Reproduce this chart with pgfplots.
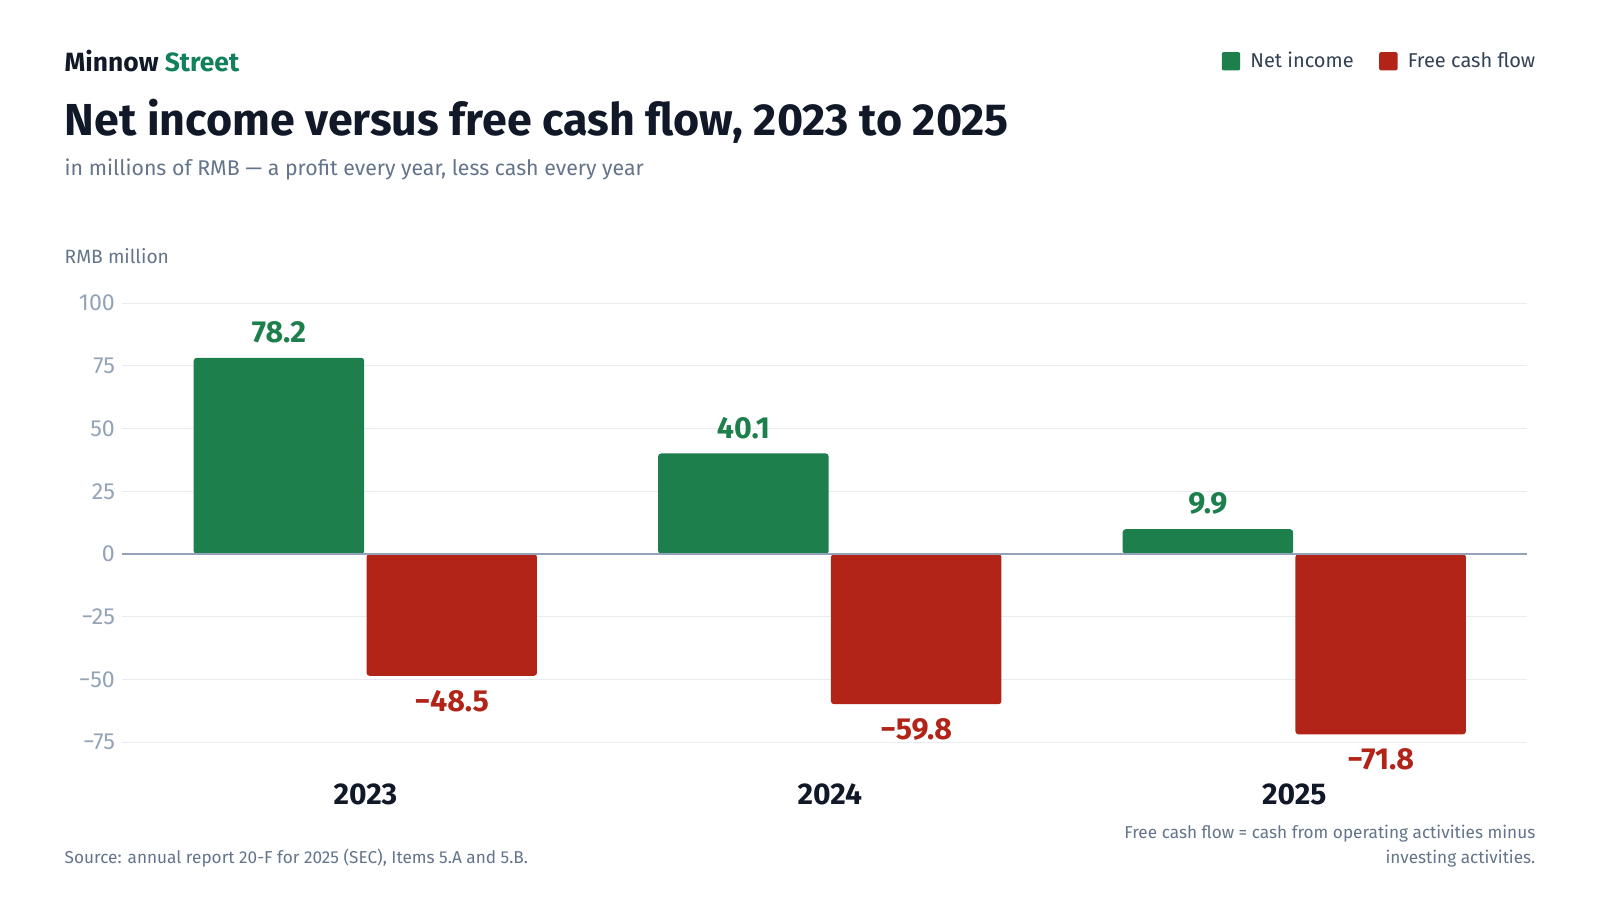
\documentclass[border=0pt]{standalone}
\usepackage{fontspec}
\setmainfont{Fira Sans}
\usepackage{pgfplots}
\pgfplotsset{compat=1.18}
\definecolor{inc}{HTML}{1C7F4C}
\definecolor{fcf}{HTML}{B22418}
\definecolor{brand}{HTML}{12805C}
\definecolor{ink}{HTML}{111827}
\definecolor{sub}{HTML}{64748B}
\definecolor{tickc}{HTML}{94A3B8}
\definecolor{gridc}{HTML}{E8ECF1}
\definecolor{zeroc}{HTML}{94A3B8}
\definecolor{leg}{HTML}{334155}
\begin{document}
\begin{tikzpicture}
\path[fill=white, use as bounding box] (0pt,0pt) rectangle (800pt,-450pt);
\begin{scope}[x=0.510204pt,y=-0.510204pt]
\node[anchor=base west, inner sep=0pt, font=\fontsize{13.2}{16}\selectfont\bfseries] at (63,70) {\textcolor{ink}{Minnow} \textcolor{brand}{Street}};
\node[anchor=base west, inner sep=0pt, text=ink, font=\fontsize{22.4}{27}\selectfont\bfseries] at (63,133) {Net income versus free cash flow, 2023 to 2025};
\node[anchor=base west, inner sep=0pt, text=sub, font=\fontsize{10.65}{13}\selectfont] at (63,172) {in millions of RMB — a profit every year, less cash every year};
\node[anchor=base west, inner sep=0pt, text=sub, font=\fontsize{9.6}{12}\selectfont] at (63,258) {RMB million};
\node[anchor=base west, inner sep=0pt, text=sub, font=\fontsize{8.6}{10}\selectfont] at (63,846) {Source: annual report 20-F for 2025 (SEC), Items 5.A and 5.B.};
\node[anchor=base east, inner sep=0pt, text=sub, font=\fontsize{8.6}{10}\selectfont] at (1505,822) {Free cash flow = cash from operating activities minus};
\node[anchor=base east, inner sep=0pt, text=sub, font=\fontsize{8.6}{10}\selectfont] at (1505,846) {investing activities.};
\end{scope}
\begin{axis}[
  at={(61.22pt,-371.17pt)}, anchor=south west,
  scale only axis, width=702.04pt, height=219.64pt,
  xmin=-0.523, xmax=2.5, ymin=-75, ymax=100,
  ybar, bar width=0.367,
  axis line style={draw=none}, major tick length=0pt,
  ymajorgrids, grid style={gridc, line width=0.5pt},
  ytick={-75,-50,-25,0,25,50,75,100},
  yticklabels={−75,−50,−25,0,25,50,75,100},
  yticklabel style={text=tickc, font=\fontsize{11.6}{14}\selectfont, anchor=east, inner sep=0pt, xshift=-3.57pt},
  xtick={0,1,2}, xticklabels={2023,2024,2025},
  xticklabel style={text=ink, font=\fontsize{15}{18}\selectfont\bfseries, anchor=base, inner sep=0pt, yshift=-30.87pt},
  clip=false,
  legend columns=2,
  legend style={at={(axis description cs:1,1)}, anchor=east, xshift=4.59pt, yshift=120.9pt,
    draw=none, fill=none, inner sep=0pt, text=leg, font=\fontsize{10}{12}\selectfont,
    nodes={inner sep=0pt, anchor=west}},
  legend image code/.code={\path[#1, draw=none, rounded corners=1pt] (0pt,-4.6pt) rectangle (9.2pt,4.6pt);},
]
\addplot[fill=inc, draw=none, bar shift=-0.186, rounded corners=1.5pt,
  nodes near coords, point meta=explicit symbolic,
  every node near coord/.append style={text=inc, font=\fontsize{15.2}{18}\selectfont\bfseries, inner sep=7.1pt, anchor=south}]
  coordinates {(0,78.2)[78.2] (1,40.1)[40.1] (2,9.9)[9.9]};
\addlegendentry{\hspace*{5.1pt}Net income\hspace*{12.75pt}}
\addplot[fill=fcf, draw=none, bar shift=0.186, rounded corners=1.5pt,
  nodes near coords, point meta=explicit symbolic,
  every node near coord/.append style={text=fcf, font=\fontsize{15.2}{18}\selectfont\bfseries, inner sep=7.1pt, anchor=north}]
  coordinates {(0,-48.5)[−48.5] (1,-59.8)[−59.8] (2,-71.8)[−71.8]};
\addlegendentry{\hspace*{5.1pt}Free cash flow}
\draw[zeroc, line width=0.75pt] (axis cs:-0.523,0) -- (axis cs:2.5,0);
\end{axis}
\end{tikzpicture}
\end{document}
